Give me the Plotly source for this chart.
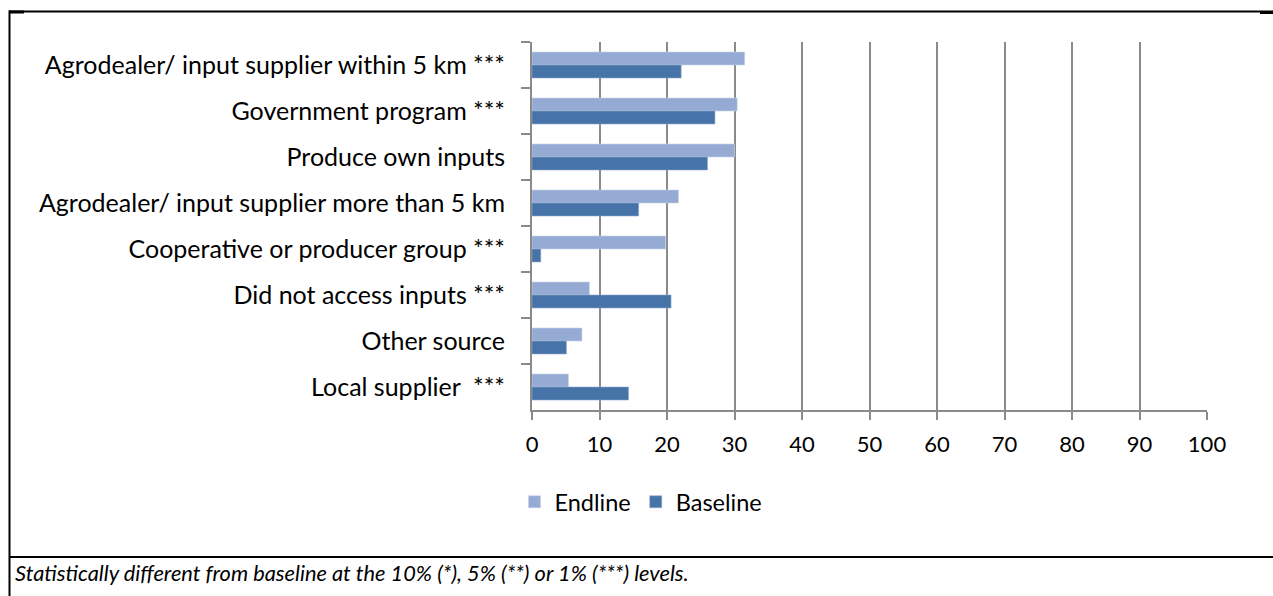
import plotly.graph_objects as go

# Sources of agricultural inputs, share of households (%)
categories = [
    "Agrodealer/ input supplier within 5 km ***",
    "Government program ***",
    "Produce own inputs",
    "Agrodealer/ input supplier more than 5 km",
    "Cooperative or producer group ***",
    "Did not access inputs ***",
    "Other source",
    "Local supplier  ***",
]
endline = [31.5, 30.4, 30.0, 21.7, 19.8, 8.5, 7.4, 5.4]
baseline = [22.1, 27.1, 26.0, 15.8, 1.3, 20.6, 5.1, 14.3]
x_ticks = list(range(0, 101, 10))

W, H = 1273, 596
FONT = "Lato"
GRID = "#8a8a8a"


def px(x):
    return x / W


def py(y):
    return 1 - y / H


fig = go.Figure()
fig.add_trace(go.Bar(
    y=categories, x=endline, name="Endline", orientation="h",
    marker=dict(color="#95abd3", line=dict(width=0.6, color="#c6d3e8")),
))
fig.add_trace(go.Bar(
    y=categories, x=baseline, name="Baseline", orientation="h",
    marker=dict(color="#4673a8", line=dict(width=0.6, color="#8fa9cc")),
))

# plot area: x 532..1207 px, y 42..410 px
fig.update_layout(
    width=W, height=H, autosize=False,
    margin=dict(l=0, r=0, t=0, b=0, autoexpand=False),
    paper_bgcolor="white", plot_bgcolor="white",
    barmode="group", bargap=0.435, bargroupgap=0,
    font=dict(family=FONT, size=23, color="black"),
    showlegend=True,
    legend=dict(
        orientation="h", x=px(641), xanchor="center", y=py(502), yanchor="middle",
        font=dict(family=FONT, size=23.5, color="black"),
        itemwidth=30, tracegroupgap=0, traceorder="normal",
    ),
    xaxis=dict(
        domain=[px(532), px(1207)], range=[0, 100],
        tickvals=x_ticks, ticktext=[str(v) for v in x_ticks],
        showgrid=True, gridcolor=GRID, gridwidth=2,
        showline=True, linecolor=GRID, linewidth=2,
        ticks="outside", ticklen=8, tickcolor=GRID, tickwidth=2,
        zeroline=False, fixedrange=True, automargin=False,
        ticklabelstandoff=6,
        tickfont=dict(family=FONT, size=22, color="black"),
    ),
    yaxis=dict(
        domain=[py(410), py(42)],
        autorange="reversed", type="category",
        categoryorder="array", categoryarray=categories,
        tickson="boundaries", ticks="outside", ticklen=9,
        tickcolor=GRID, tickwidth=2,
        showline=True, linecolor=GRID, linewidth=2,
        showgrid=False, zeroline=False, fixedrange=True, automargin=False,
        ticklabelstandoff=20,
        tickfont=dict(family=FONT, size=25, color="black"),
    ),
)

# surrounding table rules
black = dict(color="black", width=2)
fig.add_shape(type="line", xref="paper", yref="paper",
              x0=px(9), x1=1, y0=py(11.5), y1=py(11.5), line=black)
fig.add_shape(type="line", xref="paper", yref="paper",
              x0=px(9.5), x1=px(9.5), y0=py(10.5), y1=0, line=black)
fig.add_shape(type="line", xref="paper", yref="paper",
              x0=px(9), x1=1, y0=py(557), y1=py(557), line=black)
# thicker cell-corner stubs on the top rule
stub = dict(color="black", width=3)
fig.add_shape(type="line", xref="paper", yref="paper",
              x0=px(9), x1=px(24), y0=py(12), y1=py(12), line=stub)
fig.add_shape(type="line", xref="paper", yref="paper",
              x0=px(1260), x1=1, y0=py(12.5), y1=py(12.5), line=stub)

fig.add_annotation(
    xref="paper", yref="paper", x=px(13), y=py(572),
    xanchor="left", yanchor="middle", showarrow=False,
    text="<i>Statistically different from baseline at the 10% (*), 5% (**) or 1% (***) levels.</i>",
    font=dict(family=FONT, size=21.8, color="black"),
)

fig.write_html("out.html")
